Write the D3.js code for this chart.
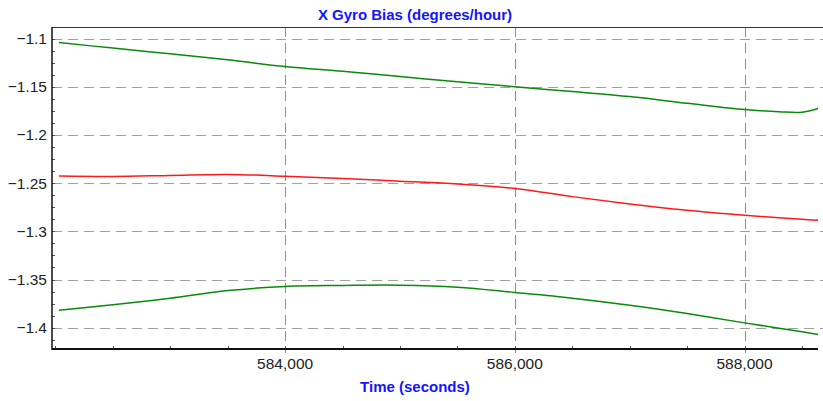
<!DOCTYPE html>
<html>
<head>
<meta charset="utf-8">
<script src="https://cdn.jsdelivr.net/npm/d3@7"></script>
<style>
  body { margin: 0; background: #fff; }
  text { font-family: "Liberation Sans", Arial, sans-serif; }
</style>
</head>
<body>
<svg id="chart"></svg>
<script>
// Time stamps (seconds) where the curves were sampled
const times = [582030, 582500, 583000, 583500, 584000, 584500, 585000, 585500,
               586000, 586500, 587000, 587500, 588000, 588300, 588500, 588640];

// Upper bound (green)
const upperBias = [-1.1041, -1.1099, -1.1158, -1.1220, -1.1290, -1.1340, -1.1394, -1.1448,
                   -1.1500, -1.1550, -1.1602, -1.1671, -1.1737, -1.1759, -1.1765, -1.1726];
// Estimate (red)
const biasEstimate = [-1.2425, -1.2430, -1.2420, -1.2410, -1.2428, -1.2452, -1.2480, -1.2508,
                      -1.2556, -1.2640, -1.2716, -1.2781, -1.2833, -1.2860, -1.2875, -1.2885];
// Lower bound (green)
const lowerBias = [-1.3818, -1.3763, -1.3694, -1.3615, -1.3572, -1.3562, -1.3559, -1.3580,
                   -1.3635, -1.3694, -1.3767, -1.3853, -1.3950, -1.4005, -1.4043, -1.4071];

const xTicks = [584000, 586000, 588000];
const yTicks = [-1.1, -1.15, -1.2, -1.25, -1.3, -1.35, -1.4];

const W = 823, H = 401;
const margin = {top: 27, right: 5, bottom: 52, left: 52};

const svg = d3.select("#chart").attr("width", W).attr("height", H);

// Scales
const x = d3.scaleLinear()
    .domain([581970, 588640])
    .range([margin.left, W - margin.right]);
const y = d3.scaleLinear()
    .domain([-1.4221, -1.0880])
    .range([H - margin.bottom, margin.top]);

const plotBottom = H - margin.bottom;

// Horizontal dashed grid
svg.append("g").selectAll("line")
    .data(yTicks)
    .join("line")
    .attr("x1", margin.left).attr("x2", W)
    .attr("y1", d => Math.round(y(d)) + 0.5).attr("y2", d => Math.round(y(d)) + 0.5)
    .attr("stroke", "#a0a0a0")
    .attr("stroke-dasharray", "10,6");

// Vertical dashed grid
svg.append("g").selectAll("line")
    .data(xTicks)
    .join("line")
    .attr("x1", d => Math.round(x(d)) + 0.5).attr("x2", d => Math.round(x(d)) + 0.5)
    .attr("y1", margin.top).attr("y2", plotBottom + 4)
    .attr("stroke", "#8c8c8c")
    .attr("stroke-dasharray", "10,6");

// Minor ticks (inside the plot)
const yMinor = d3.range(-1.4125, -1.09, 0.0125);
svg.append("g").selectAll("line")
    .data(yMinor)
    .join("line")
    .attr("x1", margin.left).attr("x2", margin.left + 3)
    .attr("y1", d => Math.round(y(d)) + 0.5).attr("y2", d => Math.round(y(d)) + 0.5)
    .attr("stroke", "#555");
const xMinor = d3.range(582000, 588700, 500);
svg.append("g").selectAll("line")
    .data(xMinor)
    .join("line")
    .attr("x1", d => Math.round(x(d)) + 0.5).attr("x2", d => Math.round(x(d)) + 0.5)
    .attr("y1", plotBottom - 3).attr("y2", plotBottom)
    .attr("stroke", "#555");

// Frame: top line, left axis, bottom axis
svg.append("line")
    .attr("x1", margin.left).attr("x2", W)
    .attr("y1", margin.top + 0.5).attr("y2", margin.top + 0.5)
    .attr("stroke", "#333");
svg.append("line")
    .attr("x1", margin.left).attr("x2", margin.left)
    .attr("y1", margin.top).attr("y2", plotBottom + 1)
    .attr("stroke", "#111").attr("stroke-width", 1.5);
svg.append("line")
    .attr("x1", margin.left).attr("x2", W - margin.right)
    .attr("y1", plotBottom).attr("y2", plotBottom)
    .attr("stroke", "#111").attr("stroke-width", 2);

// Tick labels
svg.append("g").selectAll("text")
    .data(yTicks)
    .join("text")
    .attr("x", margin.left - 5)
    .attr("y", d => y(d))
    .attr("dy", "0.35em")
    .attr("text-anchor", "end")
    .attr("font-size", 15.5)
    .attr("fill", "#222")
    .text(d => d3.format("")(d));

svg.append("g").selectAll("text")
    .data(xTicks)
    .join("text")
    .attr("x", d => x(d))
    .attr("y", plotBottom + 19.5)
    .attr("text-anchor", "middle")
    .attr("font-size", 15.5)
    .attr("fill", "#222")
    .text(d => d3.format(",")(d));

// Lines
const line = d3.line()
    .x((d, i) => x(times[i]))
    .y(d => y(d))
    .curve(d3.curveCatmullRom);

[[upperBias, "#0a8a0a"], [biasEstimate, "#ff1a1a"], [lowerBias, "#0a8a0a"]].forEach(([vals, col]) => {
    svg.append("path")
        .datum(vals)
        .attr("fill", "none")
        .attr("stroke", col)
        .attr("stroke-width", 1.5)
        .attr("d", line);
});

// Title and axis label
svg.append("text")
    .attr("x", 415).attr("y", 19.5)
    .attr("text-anchor", "middle")
    .attr("font-size", 15)
    .attr("font-weight", "bold")
    .attr("fill", "#1414ff")
    .text("X Gyro Bias (degrees/hour)");

svg.append("text")
    .attr("x", 415).attr("y", 391.5)
    .attr("text-anchor", "middle")
    .attr("font-size", 15)
    .attr("font-weight", "bold")
    .attr("fill", "#1414ff")
    .text("Time (seconds)");
</script>
</body>
</html>
